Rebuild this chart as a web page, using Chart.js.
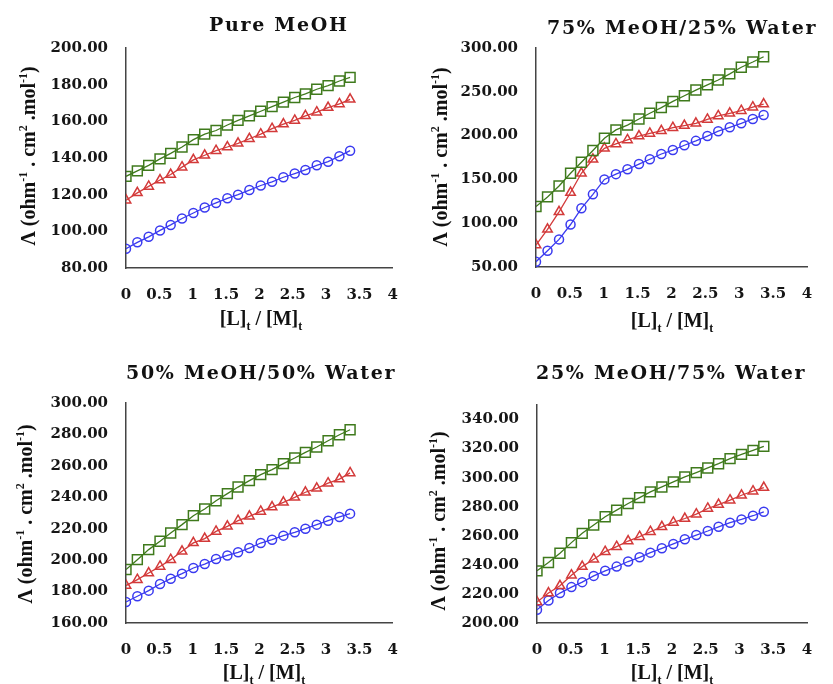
<!DOCTYPE html>
<html>
<head>
<meta charset="utf-8">
<script src="https://cdn.jsdelivr.net/npm/chart.js@4.4.0/dist/chart.umd.min.js"></script>
<style>
body { margin:0; background:#fff; width:833px; height:684px; position:relative; overflow:hidden; }
canvas { position:absolute; }
.ttl { position:absolute; font-family:"DejaVu Serif"; font-weight:bold; font-size:19px; letter-spacing:1.7px; white-space:nowrap; color:#111; line-height:22px; }
.ylab { position:absolute; font-family:"Liberation Serif"; font-weight:bold; font-size:20px; white-space:nowrap; color:#111; line-height:22px; transform:translate(-50%,-50%) rotate(-90deg); }
.xlab { position:absolute; font-family:"Liberation Serif"; font-weight:bold; font-size:20px; white-space:nowrap; color:#111; line-height:22px; transform:translate(-50%,-50%); }
sup, sub { font-size:12px; line-height:0; }
</style>
</head>
<body>
<canvas id="c1" width="416" height="340" style="left:0;top:0"></canvas>
<canvas id="c2" width="417" height="340" style="left:416px;top:0"></canvas>
<canvas id="c3" width="416" height="344" style="left:0;top:340px"></canvas>
<canvas id="c4" width="417" height="344" style="left:416px;top:340px"></canvas>

<div class="ttl" style="left:209px;top:13px">Pure MeOH</div>
<div class="ttl" style="left:547px;top:16px">75% MeOH/25% Water</div>
<div class="ttl" style="left:126px;top:361px">50% MeOH/50% Water</div>
<div class="ttl" style="left:536px;top:361px">25% MeOH/75% Water</div>

<div class="ylab" style="left:28px;top:156px">Λ (ohm<sup>-1</sup> . cm<sup>2</sup> .mol<sup>-1</sup>)</div>
<div class="ylab" style="left:440px;top:157px">Λ (ohm<sup>-1</sup> . cm<sup>2</sup> .mol<sup>-1</sup>)</div>
<div class="ylab" style="left:25px;top:514px">Λ (ohm<sup>-1</sup> . cm<sup>2</sup> .mol<sup>-1</sup>)</div>
<div class="ylab" style="left:438px;top:521px">Λ (ohm<sup>-1</sup> . cm<sup>2</sup> .mol<sup>-1</sup>)</div>

<div class="xlab" style="left:261px;top:318px">[L]<sub>t</sub> / [M]<sub>t</sub></div>
<div class="xlab" style="left:672px;top:320px">[L]<sub>t</sub> / [M]<sub>t</sub></div>
<div class="xlab" style="left:264px;top:672px">[L]<sub>t</sub> / [M]<sub>t</sub></div>
<div class="xlab" style="left:672px;top:672px">[L]<sub>t</sub> / [M]<sub>t</sub></div>

<script>
// mole ratio [L]t/[M]t, same for all four solvents
const ratio = [0, 0.17, 0.34, 0.51, 0.67, 0.84, 1.01, 1.18, 1.35, 1.52, 1.68, 1.85, 2.02, 2.19, 2.36, 2.53, 2.69, 2.86, 3.03, 3.2, 3.36];
const xTicks = [0, 0.5, 1, 1.5, 2, 2.5, 3, 3.5, 4];

// Pure MeOH
const pureGreen = [130, 133, 136, 139.5, 142.5, 146, 150, 153, 155, 158, 160.5, 163, 165.5, 168, 170.5, 173, 175, 177.5, 179.5, 182, 184];
const pureRed = [117, 121, 124.5, 128, 131, 135, 139, 141.5, 144, 146, 148, 150.5, 153, 156, 158.5, 160.5, 163, 165, 167.5, 169.5, 172];
const pureBlue = [90.5, 94, 97, 100.5, 103.5, 107, 110, 113, 115.5, 118, 120, 122.5, 125, 127, 129.5, 131.5, 133.5, 136, 138, 141, 144];
const pureTicks = [80, 100, 120, 140, 160, 180, 200];

// 75% MeOH / 25% water
const m75Green = [119, 130, 142.5, 157, 169.5, 183, 197, 206.5, 212, 219, 225.5, 232, 239, 245.5, 252, 258, 263.5, 270.5, 278, 284, 290];
const m75Red = [75, 93, 113, 135, 157, 173, 185.5, 190.5, 195, 199.5, 202.5, 205.5, 209, 211.5, 214, 218.5, 222.5, 225.5, 228.5, 232.5, 236];
const m75Blue = [56, 68.5, 81.5, 98.5, 117, 133, 150, 156, 161.5, 167.5, 173, 179, 183.5, 189, 194, 199.5, 205, 209.5, 214, 219, 223.5];
const m75Ticks = [50, 100, 150, 200, 250, 300];

// 50% MeOH / 50% water
const m50Green = [194, 200.3, 206.7, 212, 217.3, 222.6, 228.3, 232.5, 237.8, 242.3, 246.5, 250.6, 254.4, 257.6, 261.4, 265, 268.6, 272, 276, 279.8, 283];
const m50Red = [183.8, 187.6, 191.8, 196, 200.3, 205.6, 211, 213.7, 218.3, 221.5, 225.1, 227.9, 231, 233.8, 236.8, 240, 243.2, 245.7, 249, 251.6, 255.5];
const m50Blue = [173.4, 177, 180.6, 184.8, 188.2, 191.4, 195, 197.5, 200.7, 203, 205, 207.7, 210.9, 213, 215.6, 217.7, 220, 222.6, 225.1, 227.5, 229.6];
const m50Ticks = [160, 180, 200, 220, 240, 260, 280, 300];

// 25% MeOH / 75% water
const m25Green = [235.9, 241.6, 248, 255.3, 261.7, 267.4, 273.1, 277.7, 282.2, 286.3, 290.2, 293.6, 297.1, 300.5, 303.5, 306.7, 309.6, 313.1, 316, 318.8, 321.5];
const m25Red = [214.4, 220.6, 225.6, 232.9, 238.8, 243.9, 249.1, 252.5, 256.4, 259.4, 262.8, 266.2, 269.2, 271.9, 274.9, 278.8, 281.5, 284.5, 287.9, 290.7, 293.2];
const m25Blue = [209.1, 215.5, 220.6, 224.7, 228.1, 232.4, 235.9, 238.8, 242.3, 245.2, 248.4, 251.4, 254.4, 257.6, 260.5, 263.3, 266.2, 269, 271.3, 273.8, 276.5];
const m25Ticks = [200, 220, 240, 260, 280, 300, 320, 340];

const GREEN = '#3f7a1c';
const RED = '#d33a3a';
const BLUE = '#3a3af0';
const tickFont = { family: 'DejaVu Serif', weight: 'bold', size: 15 };

function pts(ys) {
    return ratio.map((x, i) => ({ x: x, y: ys[i] }));
}

function series(ys, color, style, r) {
    return {
        data: pts(ys),
        showLine: true,
        borderColor: color,
        borderWidth: 1.3,
        pointStyle: style,
        pointRadius: r,
        pointHoverRadius: r,
        pointBorderColor: color,
        pointBackgroundColor: 'rgba(0,0,0,0)',
        pointBorderWidth: 1.5
    };
}

function makeChart(id, g, rd, b, yMin, yMax, yTicks, yW, pad) {
    new Chart(document.getElementById(id), {
        type: 'scatter',
        data: {
            datasets: [
                series(g, GREEN, 'rect', 7),
                series(rd, RED, 'triangle', 5.5),
                series(b, BLUE, 'circle', 4.5)
            ]
        },
        options: {
            responsive: false,
            animation: false,
            devicePixelRatio: 1,
            layout: { padding: pad },
            plugins: { legend: { display: false }, tooltip: { enabled: false } },
            scales: {
                x: {
                    type: 'linear', min: 0, max: 4,
                    afterBuildTicks: s => { s.ticks = xTicks.map(v => ({ value: v })); },
                    afterFit: s => { s.height = 40; },
                    grid: { display: false, drawTicks: false, tickLength: 0 },
                    border: { display: true, color: '#444', width: 1.5 },
                    ticks: { font: tickFont, color: '#161616', padding: 18, maxRotation: 0, autoSkip: false, callback: v => String(v) }
                },
                y: {
                    min: yMin, max: yMax,
                    afterBuildTicks: s => { s.ticks = yTicks.map(v => ({ value: v })); },
                    afterFit: s => { s.width = yW; },
                    grid: { display: false, drawTicks: false, tickLength: 0 },
                    border: { display: true, color: '#444', width: 1.5 },
                    ticks: { font: tickFont, color: '#161616', padding: 18, autoSkip: false, callback: v => v.toFixed(2) }
                }
            }
        }
    });
}

makeChart('c1', pureGreen, pureRed, pureBlue, 80, 200, pureTicks, 126, { top: 48, right: 20, bottom: 32, left: 0 });
makeChart('c2', m75Green, m75Red, m75Blue, 50, 300, m75Ticks, 120, { top: 48, right: 26, bottom: 33, left: 0 });
makeChart('c3', m50Green, m50Red, m50Blue, 160, 300, m50Ticks, 126, { top: 63, right: 14, bottom: 21, left: 0 });
makeChart('c4', m25Green, m25Red, m25Blue, 200, 350, m25Ticks, 121, { top: 65, right: 26, bottom: 21, left: 0 });
</script>
</body>
</html>
